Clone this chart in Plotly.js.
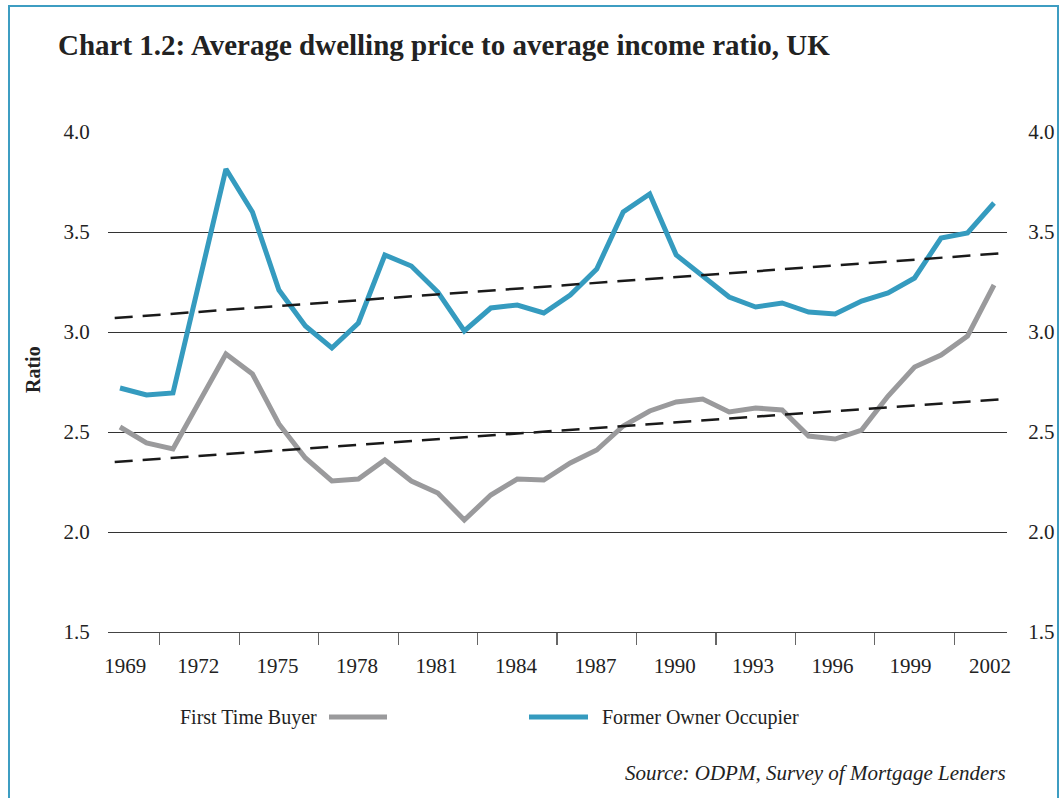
<!DOCTYPE html>
<html>
<head>
<meta charset="utf-8">
<script src="https://cdn.plot.ly/plotly-3.0.1.min.js"></script>
<style>
  html, body { margin: 0; padding: 0; background: #fff; }
  #chart { width: 1063px; height: 798px; position: relative; }
  #frame { position: absolute; left: 8px; top: 5px; width: 1051px; height: 820px;
           border: 2px solid #3d9dc2; pointer-events: none; box-sizing: border-box; }
</style>
</head>
<body>
<div id="chart"></div>
<div id="frame"></div>
<script>
// ---- data ----
const years = [1969,1970,1971,1972,1973,1974,1975,1976,1977,1978,1979,1980,1981,1982,1983,1984,1985,
               1986,1987,1988,1989,1990,1991,1992,1993,1994,1995,1996,1997,1998,1999,2000,2001,2002];
const firstTimeBuyer = [2.525,2.445,2.415,2.655,2.89,2.79,2.54,2.37,2.255,2.265,2.36,2.255,2.195,2.06,2.185,2.265,2.26,
                        2.345,2.41,2.53,2.605,2.65,2.665,2.60,2.62,2.61,2.48,2.465,2.51,2.68,2.825,2.885,2.98,3.235];
const formerOwnerOccupier = [2.72,2.685,2.695,3.255,3.815,3.60,3.21,3.03,2.92,3.045,3.385,3.33,3.20,3.005,3.12,3.135,3.095,
                             3.185,3.315,3.60,3.69,3.385,3.28,3.175,3.125,3.145,3.10,3.09,3.155,3.195,3.27,3.47,3.495,3.645];
const trendYears = [1968.8, 2002.45];
const trendFTB = [2.35, 2.665];
const trendFOO = [3.07, 3.395];
const yearLabels = ['1969','1972','1975','1978','1981','1984','1987','1990','1993','1996','1999','2002'];
const yearLabelVals = [1969.2,1971.95,1974.95,1977.95,1980.95,1983.95,1986.95,1989.95,1992.9,1995.9,1998.85,2001.85];
const tickMarkVals = [1970.5,1973.5,1976.5,1979.5,1982.5,1985.5,1988.5,1991.5,1994.5,1997.5,2000.5];
const yTicks = [1.5,2.0,2.5,3.0,3.5,4.0];
const yTickText = ['1.5','2.0','2.5','3.0','3.5','4.0'];

// ---- layout helpers ----
const W = 1063, H = 798;
const M = {l:108, r:56, t:132, b:166};
const PW = W - M.l - M.r, PH = H - M.t - M.b;
const px = x => (x - M.l) / PW;
const py = y => (H - M.b - y) / PH;

const FONT = '"Liberation Serif", "DejaVu Serif", serif';
const BLUE = '#359bbf';
const GREY = '#9a9a9c';
const XR = [1968.547, 2002.49];
const YR = [1.5, 4.0];

const traces = [
  {x: years, y: firstTimeBuyer, type:'scatter', mode:'lines', name:'First Time Buyer',
   line:{color:GREY, width:5, shape:'linear'}},
  {x: years, y: formerOwnerOccupier, type:'scatter', mode:'lines', name:'Former Owner Occupier',
   line:{color:BLUE, width:5}},
  {x: trendYears, y: trendFTB, type:'scatter', mode:'lines', showlegend:false,
   line:{color:'#1a1a1a', width:2.5, dash:'18px,10px'}},
  {x: trendYears, y: trendFOO, type:'scatter', mode:'lines', showlegend:false,
   line:{color:'#1a1a1a', width:2.5, dash:'18px,10px'}}
];

const layout = {
  width: W, height: H,
  margin: M,
  paper_bgcolor:'#fff', plot_bgcolor:'#fff',
  showlegend:false,
  font:{family:FONT, color:'#222', size:20},
  title:{text:'<b>Chart 1.2: Average dwelling price to average income ratio, UK</b>',
         x: 58/W, xanchor:'left', xref:'container', y: 1 - 45/H, yanchor:'middle', yref:'container',
         font:{family:FONT, size:29, color:'#222'}},
  xaxis:{range:XR, autorange:false, tickvals:yearLabelVals, ticktext:yearLabels,
         ticks:'outside', ticklen:15, tickcolor:'rgba(0,0,0,0)', showgrid:false, zeroline:false,
         showline:true, linecolor:'#444', linewidth:1,
         tickfont:{family:FONT, size:21, color:'#222'}, fixedrange:true},
  xaxis2:{range:XR, autorange:false, overlaying:'x', anchor:'y', side:'bottom',
          tickvals:tickMarkVals, ticks:'outside', ticklen:12, tickwidth:1.2, tickcolor:'#666',
          showticklabels:false, showgrid:false, zeroline:false, showline:false},
  yaxis:{range:YR, autorange:false, tickvals:yTicks, ticktext:yTickText,
         showgrid:true, gridcolor:'#333', gridwidth:1, zeroline:false, showline:false,
         ticks:'outside', ticklen:13, tickcolor:'rgba(0,0,0,0)',
         tickfont:{family:FONT, size:21, color:'#222'}},
  yaxis2:{range:YR, autorange:false, overlaying:'y', side:'right', anchor:'x',
          tickvals:yTicks, ticktext:yTickText, showgrid:false, zeroline:false, showline:false,
          ticks:'outside', ticklen:16, tickcolor:'rgba(0,0,0,0)',
          tickfont:{family:FONT, size:21, color:'#222'}},
  shapes:[
    {type:'line', xref:'paper', yref:'paper', x0:px(329), x1:px(387), y0:py(717), y1:py(717),
     line:{color:GREY, width:5}},
    {type:'line', xref:'paper', yref:'paper', x0:px(529), x1:px(588), y0:py(717), y1:py(717),
     line:{color:BLUE, width:5}}
  ],
  annotations:[
    {text:'<b>Ratio</b>', xref:'paper', yref:'paper', x:px(33), y:py(370), xanchor:'center', yanchor:'middle',
     textangle:-90, showarrow:false, font:{family:FONT, size:20, color:'#222'}},
    {text:'First Time Buyer', xref:'paper', yref:'paper', x:px(319), y:py(717), xanchor:'right', yanchor:'middle',
     showarrow:false, font:{family:FONT, size:20, color:'#222'}},
    {text:'Former Owner Occupier', xref:'paper', yref:'paper', x:px(600), y:py(717), xanchor:'left', yanchor:'middle',
     showarrow:false, font:{family:FONT, size:20, color:'#222'}},
    {text:'<i>Source: ODPM, Survey of Mortgage Lenders</i>', xref:'paper', yref:'paper', x:px(1008), y:py(773),
     xanchor:'right', yanchor:'middle', showarrow:false, font:{family:FONT, size:21, color:'#222'}}
  ]
};

// dummy traces to make overlay axes render
traces.push({x:[XR[0]], y:[YR[0]], xaxis:'x2', yaxis:'y', mode:'markers', marker:{opacity:0}, hoverinfo:'skip', showlegend:false});
traces.push({x:[XR[0]], y:[YR[0]], xaxis:'x', yaxis:'y2', mode:'markers', marker:{opacity:0}, hoverinfo:'skip', showlegend:false});

Plotly.newPlot('chart', traces, layout, {displayModeBar:false, staticPlot:true});
</script>
</body>
</html>
